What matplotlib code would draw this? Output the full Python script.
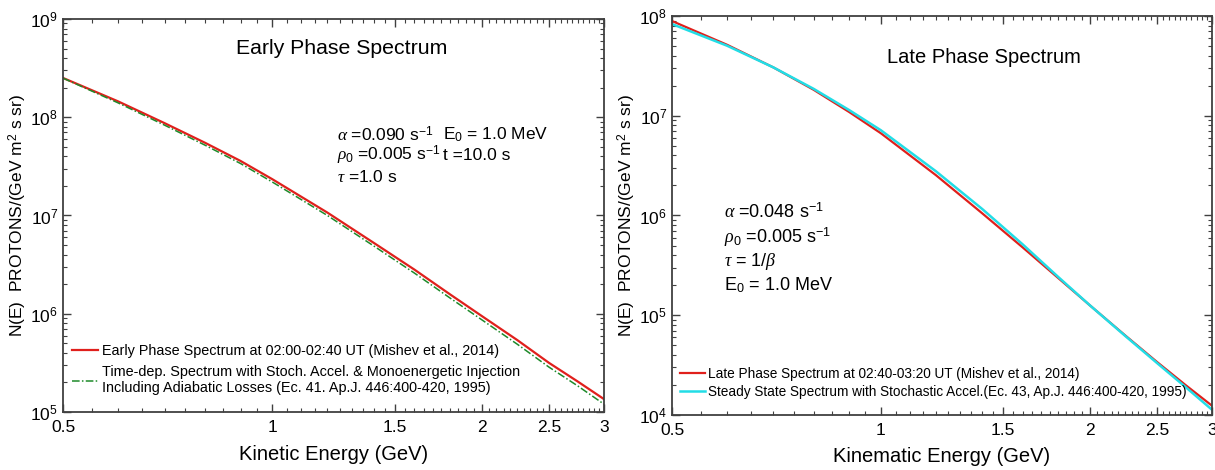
import numpy as np
import matplotlib
matplotlib.use("Agg")
import matplotlib.pyplot as plt
from matplotlib.ticker import FixedLocator, FormatStrFormatter, MultipleLocator, LogLocator, NullFormatter

plt.rcParams['font.family'] = ['Liberation Sans', 'DejaVu Sans']
plt.rcParams['mathtext.fontset'] = 'custom'
plt.rcParams['mathtext.rm'] = 'Liberation Sans'
plt.rcParams['mathtext.it'] = 'Liberation Serif:italic'
plt.rcParams['mathtext.bf'] = 'Liberation Sans:bold'

# energies (GeV) at which the curves were read
energy = [0.5, 0.6, 0.7, 0.8, 0.9, 1.0, 1.2, 1.4, 1.6, 1.8, 2.0, 2.25, 2.5, 2.75, 3.0]

# early phase
early_obs = [2.51e8, 1.45e8, 8.7e7, 5.5e7, 3.59e7, 2.34e7, 1.07e7, 5.25e6, 2.82e6,
             1.58e6, 9.5e5, 5.4e5, 3.16e5, 2.04e5, 1.35e5]
early_model = [2.50e8, 1.40e8, 8.3e7, 5.2e7, 3.38e7, 2.19e7, 1.0e7, 4.88e6, 2.6e6,
               1.45e6, 8.7e5, 4.9e5, 2.86e5, 1.84e5, 1.2e5]

# late phase
late_obs = [8.9e7, 5.15e7, 3.05e7, 1.82e7, 1.09e7, 6.67e6, 2.54e6, 1.05e6, 4.8e5,
            2.37e5, 1.26e5, 6.27e4, 3.4e4, 1.99e4, 1.24e4]
late_model = [8.3e7, 5.04e7, 3.05e7, 1.86e7, 1.14e7, 7.15e6, 2.78e6, 1.16e6, 5.15e5,
              2.43e5, 1.26e5, 6.2e4, 3.32e4, 1.9e4, 1.13e4]

xticks = [0.5, 1, 1.5, 2, 2.5, 3]
ylab = r'N(E)  PROTONS/(GeV m$^2$ s sr)'


def style_axes(ax, ylim):
    ax.set_xscale('log')
    ax.set_yscale('log')
    ax.set_xlim(0.5, 3)
    ax.set_ylim(*ylim)
    ax.xaxis.set_major_locator(FixedLocator(xticks))
    ax.xaxis.set_major_formatter(FormatStrFormatter('%g'))
    ax.xaxis.set_minor_locator(MultipleLocator(0.05))
    ax.xaxis.set_minor_formatter(NullFormatter())
    ax.yaxis.set_major_locator(LogLocator(base=10, numticks=10))
    ax.yaxis.set_minor_locator(LogLocator(base=10, subs=np.arange(2, 10), numticks=20))
    ax.yaxis.set_minor_formatter(NullFormatter())
    ax.tick_params(which='both', direction='in', top=True, right=True,
                   labelsize=12.5, color='#404040')
    ax.tick_params(which='major', length=6, width=1)
    ax.tick_params(which='minor', length=3, width=0.8)
    ax.tick_params(axis='x', which='major', pad=6)
    for s in ax.spines.values():
        s.set_color('#404040')
        s.set_linewidth(1.3)
    ax.set_ylabel(ylab, fontsize=12.5, labelpad=1)


fig = plt.figure(figsize=(12.15, 4.70), dpi=100)

# Early phase
ax1 = fig.add_axes([0.0519, 0.1234, 0.4453, 0.8362])
ax1.plot(energy, early_obs, color='#e0201c', lw=1.6,
         label='Early Phase Spectrum at 02:00-02:40 UT (Mishev et al., 2014)')
ax1.plot(energy, early_model, color='#1e8a2a', lw=1.1, linestyle=(0, (5, 1.5, 1, 1.5)),
         label='Time-dep. Spectrum with Stoch. Accel. & Monoenergetic Injection\n'
               'Including Adiabatic Losses (Ec. 41. Ap.J. 446:400-420, 1995)')
style_axes(ax1, (1e5, 1e9))
ax1.set_xlabel('Kinetic Energy (GeV)', fontsize=14.5, labelpad=7)
ax1.text(0.515, 0.925, 'Early Phase Spectrum', transform=ax1.transAxes,
         ha='center', va='center', fontsize=15.3)
ax1.text(0.507, 0.705, r'$\alpha$ =0.090 s$^{-1}$', transform=ax1.transAxes,
         va='center', fontsize=12.5)
ax1.text(0.507, 0.652, r'$\rho_0$ =0.005 s$^{-1}$', transform=ax1.transAxes,
         va='center', fontsize=12.5)
ax1.text(0.507, 0.598, r'$\tau$ =1.0 s', transform=ax1.transAxes,
         va='center', fontsize=12.5)
ax1.text(0.703, 0.705, r'E$_0$ = 1.0 MeV', transform=ax1.transAxes,
         va='center', fontsize=12.5)
ax1.text(0.703, 0.652, 't =10.0 s', transform=ax1.transAxes,
         va='center', fontsize=12.5)
ax1.legend(loc='lower left', bbox_to_anchor=(0.0, 0.02), frameon=False, fontsize=10.4,
           handlelength=1.8, handletextpad=0.28, labelspacing=0.5, borderaxespad=0.2)

# Late phase
ax2 = fig.add_axes([0.5531, 0.117, 0.4444, 0.849])
ax2.plot(energy, late_obs, color='#e0201c', lw=1.6,
         label='Late Phase Spectrum at 02:40-03:20 UT (Mishev et al., 2014)')
ax2.plot(energy, late_model, color='#22dde6', lw=1.8,
         label='Steady State Spectrum with Stochastic Accel.(Ec. 43, Ap.J. 446:400-420, 1995)')
style_axes(ax2, (1e4, 1e8))
ax2.set_xlabel('Kinematic Energy (GeV)', fontsize=14.5, labelpad=6)
ax2.text(0.578, 0.897, 'Late Phase Spectrum', transform=ax2.transAxes,
         ha='center', va='center', fontsize=14.5)
ax2.text(0.096, 0.509, r'$\alpha$ =0.048 s$^{-1}$', transform=ax2.transAxes,
         va='center', fontsize=13)
ax2.text(0.096, 0.445, r'$\rho_0$ =0.005 s$^{-1}$', transform=ax2.transAxes,
         va='center', fontsize=13)
ax2.text(0.096, 0.385, r'$\tau$ = 1/$\beta$', transform=ax2.transAxes,
         va='center', fontsize=13)
ax2.text(0.096, 0.326, r'E$_0$ = 1.0 MeV', transform=ax2.transAxes,
         va='center', fontsize=13)
ax2.legend(loc='lower left', bbox_to_anchor=(0.0, 0.02), frameon=False, fontsize=9.8,
           handlelength=1.85, handletextpad=0.2, labelspacing=0.3, borderaxespad=0.2)

fig.savefig('out.png', dpi=100)
